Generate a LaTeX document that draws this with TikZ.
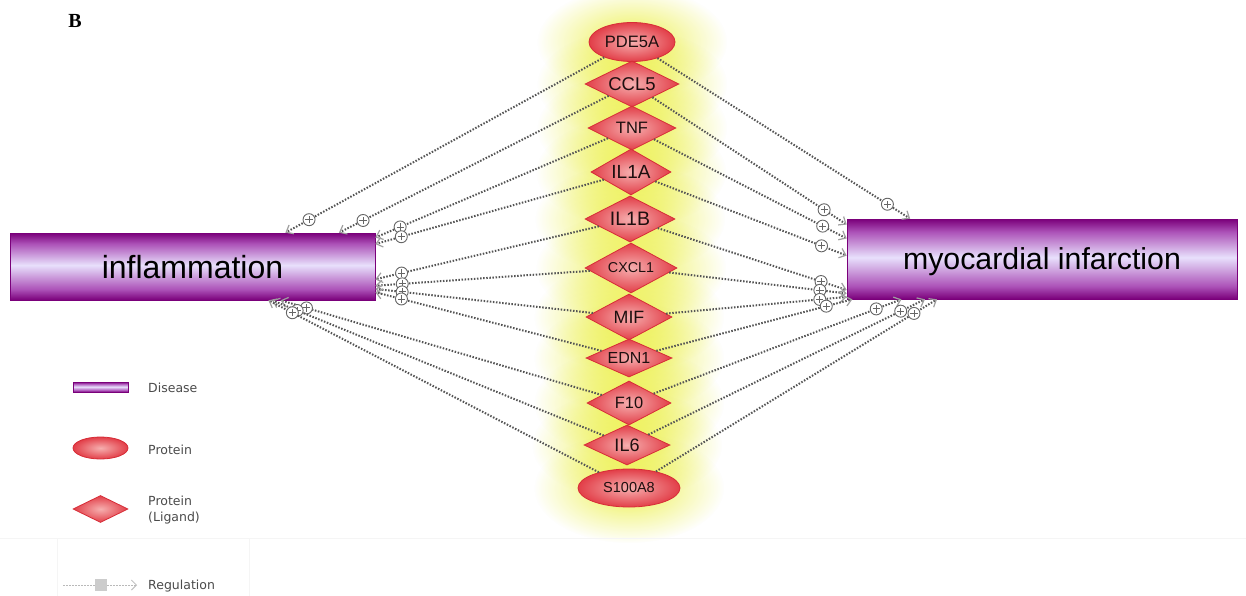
\documentclass[tikz,border=0pt]{standalone}
\usepackage{fontspec}
\setmainfont{Liberation Sans}
\newfontfamily\legendfont{DejaVu Sans}
\newfontfamily\serifbold{Liberation Serif}
\usetikzlibrary{shapes.geometric, arrows.meta, calc, fadings, backgrounds}

\newcommand\pxfont[1]{\fontsize{#1pt}{#1pt}\selectfont}

\definecolor{glowyellow}{RGB}{236,240,70}
\definecolor{protedge}{RGB}{215,45,55}
\definecolor{protin}{RGB}{246,175,175}
\definecolor{protout}{RGB}{226,62,72}
\definecolor{disdark}{RGB}{122,0,122}
\definecolor{dismid}{RGB}{172,82,184}
\definecolor{dislight}{RGB}{232,224,252}
\definecolor{edgegray}{RGB}{85,85,85}
\definecolor{legendtext}{RGB}{75,75,75}
\definecolor{nodetext}{RGB}{30,15,15}

% purple bar with a pale stripe through the middle
\pgfdeclareverticalshading{diseasebar}{100bp}{color(0bp)=(disdark); color(25bp)=(disdark);
  color(33bp)=(dismid); color(51bp)=(dislight); color(67bp)=(dismid);
  color(75bp)=(disdark); color(100bp)=(disdark)}

% soft halo behind the protein column
\tikzfading[name=halo, inner color=transparent!5, outer color=transparent!100]

\tikzset{
  prot/.style={ellipse, draw=protedge, line width=0.8pt, inner color=protin,
    outer color=protout, inner sep=0pt, text=nodetext},
  lig/.style={diamond, aspect=2, draw=protedge, line width=0.8pt, inner color=protin,
    outer color=protout, inner sep=0pt, text=nodetext},
  disease/.style={rectangle, draw=disdark, line width=0.6pt, shade, shading=diseasebar,
    inner sep=0pt, text=black, text depth=0pt},
  reg/.style={draw=edgegray, line width=2pt, dash pattern=on 1.5pt off 1.6pt,
    -{Straight Barb[length=6pt, width=10pt, line width=1.2pt, color=gray!75]}},
  regmark/.style={circle, draw=gray!80!black, fill=white, line width=0.9pt,
    minimum size=12pt, inner sep=0pt,
    path picture={\draw[gray!80!black, line width=0.9pt]
      ([xshift=-3.6pt]path picture bounding box.center) -- ([xshift=3.6pt]path picture bounding box.center)
      ([yshift=-3.6pt]path picture bounding box.center) -- ([yshift=3.6pt]path picture bounding box.center);}},
  legtext/.style={anchor=west, inner sep=0pt, text=legendtext, font=\legendfont\pxfont{12.5}},
  legline/.style={draw=gray!55, line width=0.8pt, dash pattern=on 2pt off 1pt},
}

\begin{document}
\begin{tikzpicture}[x=1pt, y=-1pt]
\useasboundingbox (0,0) rectangle (1246,596);

% panel letter
\node[font=\serifbold\bfseries\pxfont{20}] (panel) at (75,21) {B};

% proteins
\node[prot, minimum width=86pt, minimum height=39pt, font=\pxfont{16.5}] (pde) at (632,42) {PDE5A};
\node[lig, minimum width=94pt, minimum height=46pt, font=\pxfont{18.5}] (ccl) at (632,84) {CCL5};
\node[lig, minimum width=88pt, minimum height=44pt, font=\pxfont{16.5}] (tnf) at (632,128) {TNF};
\node[lig, minimum width=80pt, minimum height=46pt, font=\pxfont{19}] (ila) at (631,172) {IL1A};
\node[lig, minimum width=90pt, minimum height=46pt, font=\pxfont{19.5}] (ilb) at (630,219) {IL1B};
\node[lig, minimum width=92pt, minimum height=50pt, font=\pxfont{14.3}] (cxc) at (631,268) {CXCL1};
\node[lig, minimum width=86pt, minimum height=46pt, font=\pxfont{17.8}] (mif) at (629,317) {MIF};
\node[lig, minimum width=86pt, minimum height=38pt, font=\pxfont{16}] (edn) at (629,358) {EDN1};
\node[lig, minimum width=84pt, minimum height=44pt, font=\pxfont{16.4}] (f10) at (629,403) {F10};
\node[lig, minimum width=86pt, minimum height=40pt, font=\pxfont{18}] (il6) at (627,445) {IL6};
\node[prot, minimum width=102pt, minimum height=38pt, font=\pxfont{14.5}] (s100) at (629,488) {S100A8};

% diseases
\node[disease, minimum width=365pt, minimum height=67pt, font=\pxfont{32}] (inflam) at (192.5,266.5) {inflammation};
\node[disease, minimum width=390pt, minimum height=80pt, font=\pxfont{30.3}] (mi) at (1042,259) {myocardial infarction};

% background and glow
\begin{scope}[on background layer]
  \fill[white] (0,0) rectangle (1246,596);
  \foreach \n in {pde,ccl,tnf,ila,ilb,cxc,mif,edn,f10,il6,s100}
    \fill[glowyellow, path fading=halo] (\n.center) ellipse [x radius=95, y radius=55];
  \draw[black!4, line width=0.8pt] (0,538) -- (1246,538) (57,538) -- (57,596) (249,538) -- (249,596);
\end{scope}

% regulation edges towards inflammation
\foreach \p/\a in {pde/20, ccl/13, tnf/9, ila/7, ilb/356, cxc/354, mif/353, edn/352, f10/339, il6/337, s100/336} {
  \draw[reg] (\p) -- (inflam.\a);
  \node[regmark] at ($(inflam.\a)!27pt!(\p.center)$) {};
}
% regulation edges towards myocardial infarction
\foreach \p/\a in {pde/163, ccl/170, tnf/174, ila/179, ilb/189, cxc/190, mif/191, edn/192, f10/196, il6/199, s100/201} {
  \draw[reg] (\p) -- (mi.\a);
  \node[regmark] at ($(mi.\a)!27pt!(\p.center)$) {};
}

% legend
\node[disease, minimum width=55pt, minimum height=10pt] (lgdis) at (100.5,387) {};
\node[legtext] (lgdist) at (148,388) {Disease};
\node[prot, minimum width=55pt, minimum height=22pt] (lgprot) at (100.5,448) {};
\node[legtext] (lgprott) at (148,450) {Protein};
\node[lig, minimum width=55pt, minimum height=27pt] (lglig) at (100.5,509) {};
\node[legtext, align=left, font=\legendfont\fontsize{12.5pt}{16pt}\selectfont] (lgligt) at (148,510) {Protein\\(Ligand)};
\coordinate (rstart) at (63,585);
\coordinate (rend) at (137,585);
\node[fill=gray!40, minimum size=12pt, inner sep=0pt] (rsq) at (101,585) {};
\draw[legline] (rstart) -- (rsq);
\draw[legline, -{Straight Barb[length=5pt, width=10pt]}] (rsq) -- (rend);
\node[legtext] (lgregt) at (148,586) {Regulation};
\end{tikzpicture}
\end{document}
